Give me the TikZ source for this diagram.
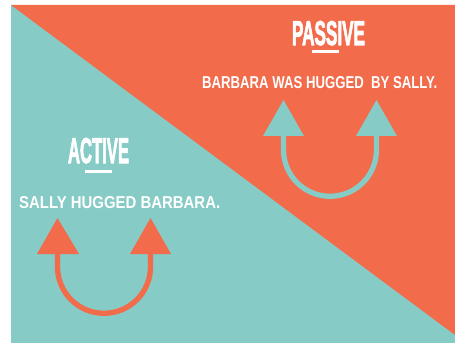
\documentclass[tikz,border=0pt]{standalone}
\usepackage{fontspec}
\usepackage{graphicx}
\setmainfont{Liberation Sans}
\newfontfamily\titlefont[FakeBold=3]{Liberation Sans}
\definecolor{teal}{HTML}{86CBC5}
\definecolor{coral}{HTML}{F26B4B}
\begin{document}
\begin{tikzpicture}[x=1pt,y=1pt,
  title/.style={inner sep=0pt,anchor=base,text=white,font=\titlefont\bfseries},
  sentence/.style={inner sep=0pt,anchor=base west,text=white,font=\bfseries},
  bar/.style={line width=3pt,white},
  shaft/.style={line width=5.3pt}]
\useasboundingbox (0,0) rectangle (455,343);
\fill[white] (0,0) rectangle (455,343);
% panels
\fill[teal] (11,0) rectangle (455,338);
\fill[coral] (11,338) -- (455,338) -- (455,8) -- cycle;
% passive
\node[title] (ptitle) at (328.5,298) {\resizebox{73pt}{24pt}{PASSIVE}};
\coordinate (pb1) at (312,291);
\coordinate (pb2) at (339,291);
\draw[bar] (pb1) -- (pb2);
\node[sentence] (psent) at (202,254) {\resizebox{235pt}{12pt}{BARBARA WAS HUGGED\ \ BY SALLY.}};
% passive arrows
\draw[shaft,teal] (283.5,208) -- (283.5,193.2) arc[start angle=180,end angle=360,radius=46.5] -- (376.5,208);
\fill[teal] (263,207) -- (283.5,243) -- (304,207) -- cycle;
\fill[teal] (356,207) -- (376.5,243) -- (397,207) -- cycle;
% active
\node[title] (atitle) at (98.5,180) {\resizebox{61pt}{25pt}{ACTIVE}};
\coordinate (ab1) at (85,171);
\coordinate (ab2) at (112,171);
\draw[bar] (ab1) -- (ab2);
\node[sentence] (asent) at (19,134) {\resizebox{201pt}{12pt}{SALLY HUGGED BARBARA.}};
\draw[shaft,coral] (57.5,90) -- (57.5,76.2) arc[start angle=180,end angle=360,radius=46.5] -- (150.5,90);
\fill[coral] (37,89) -- (57.5,125) -- (79,89) -- cycle;
\fill[coral] (130,89) -- (150.5,125) -- (171,89) -- cycle;
\end{tikzpicture}
\end{document}
